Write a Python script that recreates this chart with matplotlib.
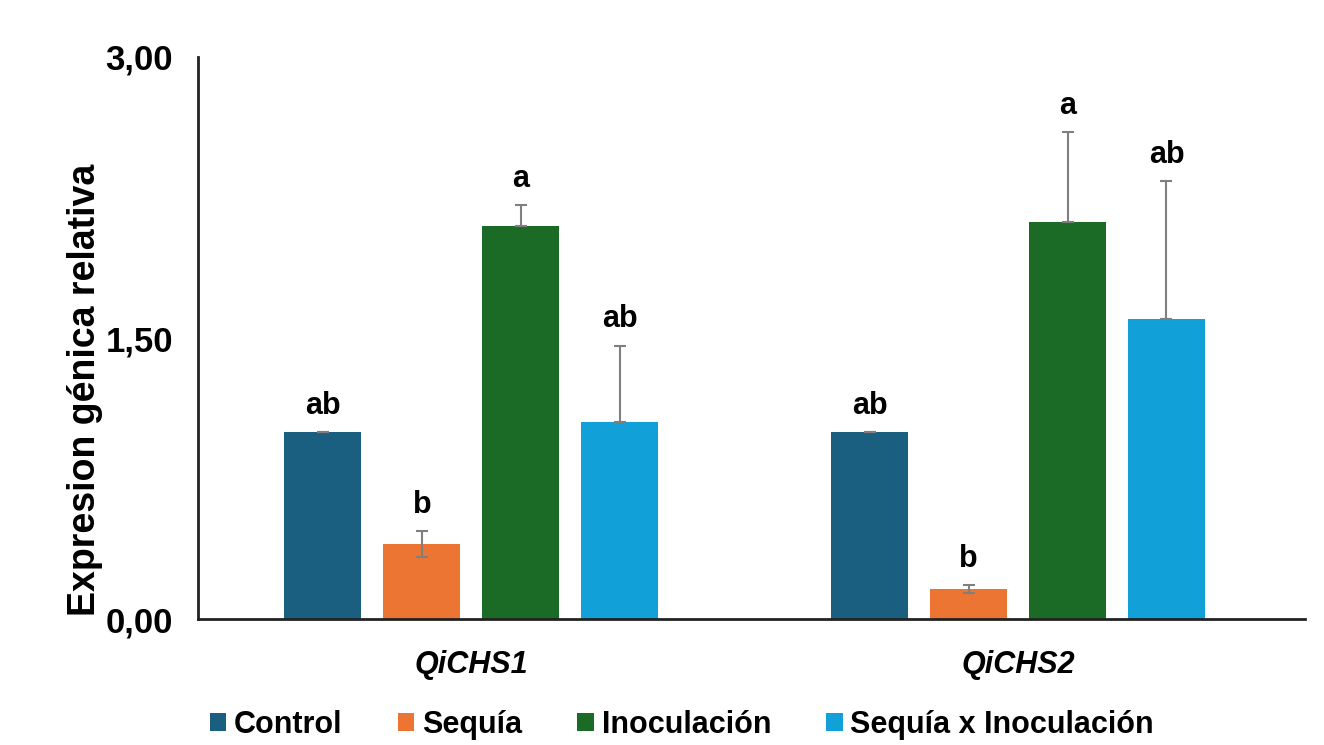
import matplotlib.pyplot as plt
import numpy as np

genes = ['QiCHS1', 'QiCHS2']
treatments = ['Control', 'Sequía', 'Inoculación', 'Sequía x Inoculación']
colors = ['#1b5f80', '#ec7533', '#1b6a25', '#12a0d8']

# mean values per treatment (one list per treatment, one value per gene)
control = [1.00, 1.00]
sequia = [0.40, 0.16]
inoc = [2.10, 2.12]
seq_inoc = [1.05, 1.60]

err_control = [0.0, 0.0]
err_sequia = [0.07, 0.02]
err_inoc = [0.11, 0.48]
err_seq_inoc = [0.41, 0.74]

letters = [['ab', 'ab'], ['b', 'b'], ['a', 'a'], ['ab', 'ab']]

values = [control, sequia, inoc, seq_inoc]
errors = [err_control, err_sequia, err_inoc, err_seq_inoc]
# only the Sequía bars show the lower whisker
show_lower = [False, True, False, False]

plt.rcParams['font.family'] = ['Liberation Sans', 'DejaVu Sans']
plt.rcParams['font.weight'] = 'bold'

fig = plt.figure(figsize=(13.24, 7.45), dpi=100)
ax = fig.add_axes([0.1495, 0.169, 0.8362, 0.7545])

x = np.arange(len(genes))
width = 0.141
step = 0.181

for i, t in enumerate(treatments):
  pos = x + (i - 1.5) * step
  ax.bar(pos, values[i], width, color=colors[i], label=t, zorder=2)
  lower = errors[i] if show_lower[i] else [0] * len(genes)
  ax.errorbar(pos, values[i], yerr=[lower, errors[i]], fmt='none',
              ecolor='#7f7f7f', elinewidth=1.5, capsize=4, capthick=1.5, zorder=3)
  for j in range(len(genes)):
    ax.annotate(letters[i][j], (pos[j], values[i][j] + errors[i][j]),
                xytext=(0, 8), textcoords='offset points',
                ha='center', va='bottom', fontsize=22, fontweight='bold')

ax.set_xlim(-0.5, 1.525)
ax.set_ylim(0, 3)
ax.set_yticks([0, 1.5, 3])
ax.set_yticklabels(['0,00', '1,50', '3,00'], fontsize=25, fontweight='bold')
ax.set_xticks(x)
ax.set_xticklabels(genes, fontsize=22, fontweight='bold', style='italic')
ax.tick_params(axis='y', length=0, pad=18)
ax.tick_params(axis='x', length=0, pad=22)
ax.set_ylabel('Expresion génica relativa', fontsize=27, fontweight='bold')
ax.yaxis.set_label_coords(-0.086, 0.407)

for s in ['top', 'right']:
  ax.spines[s].set_visible(False)
for s in ['left', 'bottom']:
  ax.spines[s].set_linewidth(2)
  ax.spines[s].set_color('#222222')

fig.legend(loc='lower center', bbox_to_anchor=(0.515, -0.03), ncol=4, frameon=False,
           fontsize=22, handlelength=0.55, handleheight=0.55, handletextpad=0.25,
           columnspacing=1.8)

plt.savefig('out.png', dpi=100)
